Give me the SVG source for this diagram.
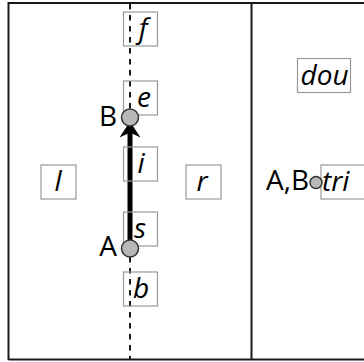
<svg xmlns="http://www.w3.org/2000/svg" width="364" height="362" viewBox="0 0 364 362">
<style>
.frame{stroke:#1a1a1a;stroke-width:2;fill:none}
.box{fill:none;stroke:#999;stroke-width:1.2}
.lbl{font-family:"Open Sans","DejaVu Sans",sans-serif;font-style:italic;font-size:28px;fill:#000;text-anchor:middle}
.pt{font-family:"Open Sans","DejaVu Sans",sans-serif;font-size:28px;fill:#000;text-anchor:end}
.dot{fill:#b8b8b8;stroke:#333;stroke-width:1.5}
.dash{stroke:#1a1a1a;stroke-width:2;stroke-dasharray:5.5 5.5;fill:none}
.arrow{stroke:#000;stroke-width:5;fill:none}
</style>
<defs>
<marker id="ah" markerUnits="userSpaceOnUse" viewBox="-17 -11 18 22" markerWidth="18" markerHeight="22" refX="-8.5" refY="0" orient="auto">
<path d="M0,0 L-16,-10.5 L-11,0 L-16,10.5 Z" fill="#000"/>
</marker>
</defs>
<rect width="364" height="362" fill="#fff"/>
<g id="frame">
<path class="frame" d="M8.5,360 L8.5,3 L364,3 M8.5,359.5 L364,359.5 M251.5,3 L251.5,360"/>
</g>
<g id="connectors">
<line class="dash" x1="130" y1="4" x2="130" y2="359"/>
<line class="arrow" x1="130" y1="248.5" x2="130" y2="130" marker-end="url(#ah)"/>
</g>
<g id="node-f"><rect class="box" x="123.5" y="12" width="34" height="34"/><text class="lbl" x="143" y="38">f</text></g>
<g id="node-e"><rect class="box" x="123.5" y="81" width="34" height="34"/><text class="lbl" x="144" y="107">e</text></g>
<g id="node-i"><rect class="box" x="123.5" y="147" width="34" height="34"/><text class="lbl" x="141" y="173">i</text></g>
<g id="node-s"><rect class="box" x="123.5" y="212" width="34" height="34"/><text class="lbl" x="140" y="238">s</text></g>
<g id="node-b"><rect class="box" x="123.5" y="272" width="34" height="34"/><text class="lbl" x="141" y="298">b</text></g>
<g id="node-l"><rect class="box" x="41" y="165" width="35" height="34"/><text class="lbl" x="58" y="191">l</text></g>
<g id="node-r"><rect class="box" x="186" y="165" width="35" height="34"/><text class="lbl" x="202" y="191">r</text></g>
<g id="node-dou"><rect class="box" x="297.5" y="58.5" width="53" height="34"/><text class="lbl" x="324.5" y="84.5">dou</text></g>
<g id="node-tri"><rect class="box" x="321" y="165" width="50" height="34"/><text class="lbl" x="322" y="191" style="text-anchor:start">tri</text></g>
<g id="point-B"><circle class="dot" cx="130" cy="117.5" r="8.5"/><text class="pt" x="117" y="126">B</text></g>
<g id="point-A"><circle class="dot" cx="130" cy="248.5" r="8.5"/><text class="pt" x="117" y="256">A</text></g>
<g id="point-AB"><circle class="dot" cx="316" cy="182.5" r="6"/><text class="pt" x="309" y="190">A,B</text></g>
</svg>
